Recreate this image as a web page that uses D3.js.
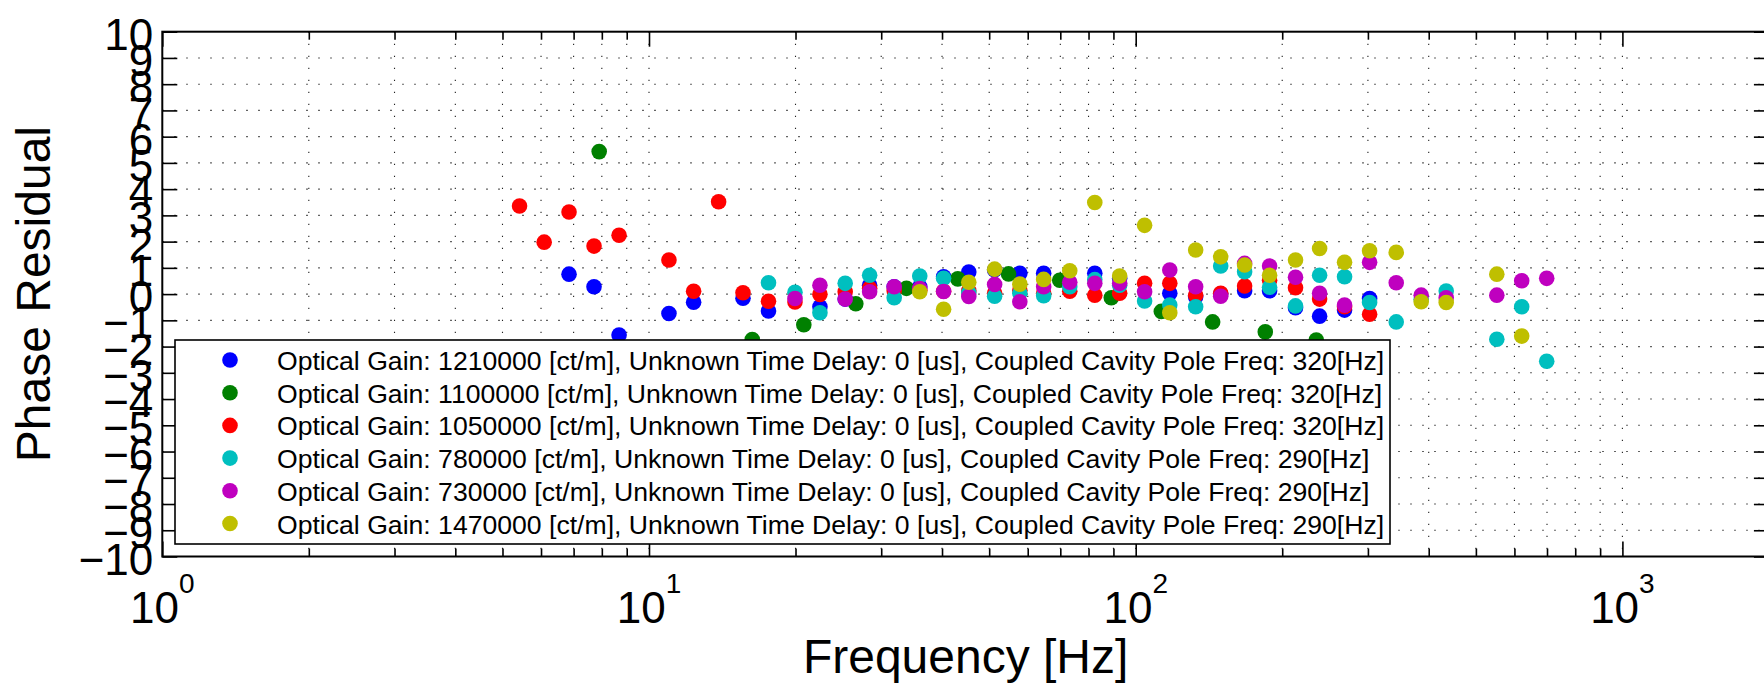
<!DOCTYPE html>
<html><head><meta charset="utf-8">
<script src="https://cdn.jsdelivr.net/npm/d3@7"></script>
<style>
body{margin:0;background:#fff}
svg{display:block}
text{font-family:"Liberation Sans", Arial, Helvetica, sans-serif; fill:#000}
</style>
</head><body>
<svg id="c" width="1764" height="687"></svg>
<script>
// ---------------- data ----------------
const freqBlue  = [6.85, 7.71, 8.68, 10.99, 12.35, 15.6, 17.6, 22.45, 25.3, 28.4, 31.9, 36.0, 40.3, 45.4, 51.3, 57.8, 64.7, 82.4, 92.7, 117.5, 132.8, 149.5, 167.4, 188.4, 213, 238.7, 268.6, 302.4];
const phaseBlue = [0.76, 0.28, -1.56, -0.74, -0.31, -0.16, -0.64, -0.48, -0.19, 0.34, 0.28, 0.28, 0.66, 0.84, 0.92, 0.79, 0.79, 0.79, 0.60, 0.03, -0.10, 0.00, 0.13, 0.13, -0.52, -0.84, -0.61, -0.17];

const freqGreen  = [7.9, 16.3, 20.8, 26.6, 33.8, 43.1, 54.8, 69.8, 89.1, 112.9, 143.9, 184.6, 235];
const phaseGreen = [5.43, -1.73, -1.17, -0.37, 0.22, 0.58, 0.77, 0.53, -0.14, -0.66, -1.06, -1.44, -1.75];

const freqRed  = [5.42, 6.09, 6.85, 7.71, 8.68, 10.99, 12.35, 13.9, 15.6, 17.6, 19.95, 22.45, 25.3, 28.4, 31.9, 36.0, 40.3, 45.4, 51.3, 57.8, 64.7, 73.2, 82.4, 92.7, 104.3, 117.5, 132.8, 149.5, 167.4, 188.4, 213, 238.7, 268.6, 302.4];
const phaseRed = [3.36, 1.98, 3.13, 1.83, 2.24, 1.30, 0.11, 3.52, 0.05, -0.27, -0.30, -0.01, 0.09, 0.22, 0.13, 0.15, 0.11, 0.13, 0.03, 0.15, 0.03, 0.11, -0.04, 0.03, 0.41, 0.41, -0.04, 0.03, 0.31, 0.53, 0.24, -0.19, -0.48, -0.77];

const freqCyan  = [17.6, 19.95, 22.45, 25.3, 28.4, 31.9, 36.0, 40.3, 45.4, 51.3, 57.8, 64.7, 73.2, 82.4, 92.7, 104.3, 117.5, 132.8, 149.5, 167.4, 188.4, 213, 238.7, 268.6, 302.4, 343, 386, 434.5, 552, 621, 699];
const phaseCyan = [0.43, 0.07, -0.71, 0.41, 0.72, -0.14, 0.69, 0.60, 0.05, -0.08, 0.03, -0.06, 0.28, 0.55, 0.34, -0.26, -0.42, -0.48, 1.07, 0.85, 0.26, -0.45, 0.72, 0.66, -0.32, -1.06, -0.20, 0.12, -1.72, -0.48, -2.56];

const freqMagenta  = [19.95, 22.45, 25.3, 28.4, 31.9, 36.0, 40.3, 45.4, 51.3, 57.8, 64.7, 73.2, 82.4, 92.7, 104.3, 117.5, 132.8, 149.5, 167.4, 188.4, 213, 238.7, 268.6, 302.4, 343, 386, 434.5, 552, 621, 699];
const phaseMagenta = [-0.17, 0.34, -0.19, 0.09, 0.28, 0.21, 0.10, -0.09, 0.37, -0.29, 0.28, 0.45, 0.41, 0.41, 0.09, 0.92, 0.28, -0.08, 1.17, 1.07, 0.64, 0.03, -0.42, 1.21, 0.43, -0.04, -0.14, -0.04, 0.51, 0.60];

const freqYellow  = [36.0, 40.3, 45.4, 51.3, 57.8, 64.7, 73.2, 82.4, 92.7, 104.3, 117.5, 132.8, 149.5, 167.4, 188.4, 213, 238.7, 268.6, 302.4, 343, 386, 434.5, 552, 621];
const phaseYellow = [0.09, -0.58, 0.45, 0.95, 0.38, 0.56, 0.89, 3.49, 0.69, 2.62, -0.71, 1.68, 1.42, 1.11, 0.72, 1.30, 1.74, 1.21, 1.65, 1.59, -0.29, -0.32, 0.76, -1.60];

const seriesLabels = [
  "Optical Gain: 1210000 [ct/m], Unknown Time Delay: 0 [us], Coupled Cavity Pole Freq: 320[Hz]",
  "Optical Gain: 1100000 [ct/m], Unknown Time Delay: 0 [us], Coupled Cavity Pole Freq: 320[Hz]",
  "Optical Gain: 1050000 [ct/m], Unknown Time Delay: 0 [us], Coupled Cavity Pole Freq: 320[Hz]",
  "Optical Gain: 780000 [ct/m], Unknown Time Delay: 0 [us], Coupled Cavity Pole Freq: 290[Hz]",
  "Optical Gain: 730000 [ct/m], Unknown Time Delay: 0 [us], Coupled Cavity Pole Freq: 290[Hz]",
  "Optical Gain: 1470000 [ct/m], Unknown Time Delay: 0 [us], Coupled Cavity Pole Freq: 290[Hz]"
];
const seriesColors = ["#0000ff", "#008000", "#ff0000", "#00bfbf", "#bf00bf", "#bfbf00"];

const yTickValues = [-10,-9,-8,-7,-6,-5,-4,-3,-2,-1,0,1,2,3,4,5,6,7,8,9,10];
const xDecadeExponents = [0, 1, 2, 3];
const xLabel = "Frequency [Hz]";
const yLabel = "Phase Residual";

// ---------------- layout ----------------
const svg = d3.select("#c");
const L = 162.3, T = 31.7, B = 556.5, decade = 486.7;
const xDomain = [1, 2000];
const x = d3.scaleLog().domain(xDomain).range([L, L + decade * Math.log10(xDomain[1])]);
const y = d3.scaleLinear().domain([-10, 10]).range([B, T]);
const R = x.range()[1];

const series = [
  [freqBlue, phaseBlue], [freqGreen, phaseGreen], [freqRed, phaseRed],
  [freqCyan, phaseCyan], [freqMagenta, phaseMagenta], [freqYellow, phaseYellow]
].map((p, i) => ({ color: seriesColors[i], label: seriesLabels[i],
  pts: p[0].map((f, j) => ({ f: f, v: p[1][j] })) }));

// grid
const xTicksAll = x.ticks();
const grid = svg.append("g").attr("stroke", "#222").attr("stroke-width", 1.1)
  .attr("stroke-dasharray", "1.4 10.6");
grid.selectAll("line.gx").data(xTicksAll.filter(t => t > xDomain[0] && t < xDomain[1]))
  .join("line").attr("x1", d => x(d)).attr("x2", d => x(d)).attr("y1", T).attr("y2", B);
grid.selectAll("line.gy").data(yTickValues.filter(t => t > -10 && t < 10))
  .join("line").attr("x1", L).attr("x2", R).attr("y1", d => y(d)).attr("y2", d => y(d));

// points
series.forEach(s => {
  svg.append("g").selectAll("circle").data(s.pts).join("circle")
    .attr("cx", d => x(d.f)).attr("cy", d => y(d.v)).attr("r", 7.8).attr("fill", s.color);
});

// axes: left (with labels) and right ticks
const fmt = d => (d < 0 ? "\u2212" + Math.abs(d) : String(d));
const gL = svg.append("g").attr("transform", `translate(${L},0)`)
  .call(d3.axisLeft(y).tickValues(yTickValues).tickSize(-15).tickPadding(9).tickFormat(fmt));
gL.select(".domain").remove();
gL.selectAll("line").attr("stroke", "#000").attr("stroke-width", 1.6);
gL.selectAll("text").attr("font-size", 44).attr("dy", "0.4em")
  .style("font-family", '"Liberation Sans", Arial, sans-serif');

const gR = svg.append("g").attr("transform", `translate(${R},0)`)
  .call(d3.axisRight(y).tickValues(yTickValues).tickSize(-15).tickFormat(""));
gR.select(".domain").remove();
gR.selectAll("line").attr("stroke", "#000").attr("stroke-width", 1.6);

// x ticks top & bottom (major longer)
const isMajor = t => Math.abs(Math.log10(t) - Math.round(Math.log10(t))) < 1e-9;
const gB = svg.append("g").attr("transform", `translate(0,${B})`)
  .call(d3.axisBottom(x).tickValues(xTicksAll).tickSize(-8).tickFormat(""));
gB.select(".domain").remove();
gB.selectAll(".tick line").attr("y2", d => isMajor(d) ? -15 : -8).attr("stroke", "#000").attr("stroke-width", 1.6);
const gT = svg.append("g").attr("transform", `translate(0,${T})`)
  .call(d3.axisTop(x).tickValues(xTicksAll).tickSize(-8).tickFormat(""));
gT.select(".domain").remove();
gT.selectAll(".tick line").attr("y2", d => isMajor(d) ? 15 : 8).attr("stroke", "#000").attr("stroke-width", 1.6);

// x decade labels 10^k
const xl = svg.append("g").selectAll("text").data(xDecadeExponents).join("text")
  .attr("x", d => x(Math.pow(10, d))).attr("y", 623).attr("text-anchor", "middle")
  .attr("font-size", 44);
xl.append("tspan").text("10");
xl.append("tspan").attr("dy", -30).attr("font-size", 28).text(d => d);

// frame
svg.append("rect").attr("x", L).attr("y", T).attr("width", R - L).attr("height", B - T)
  .attr("fill", "none").attr("stroke", "#000").attr("stroke-width", 2);

// axis labels
svg.append("text").attr("x", (L + R) / 2).attr("y", 673).attr("text-anchor", "middle")
  .attr("font-size", 48).text(xLabel);
svg.append("text").attr("transform", `translate(50,${(T + B) / 2}) rotate(-90)`)
  .attr("text-anchor", "middle").attr("font-size", 48).text(yLabel);

// legend
const lg = svg.append("g");
lg.append("rect").attr("x", 175).attr("y", 340).attr("width", 1215).attr("height", 204)
  .attr("fill", "#fff").attr("stroke", "#000").attr("stroke-width", 1.6);
const rows = lg.selectAll("g.row").data(series).join("g")
  .attr("transform", (d, i) => `translate(0,${360 + i * 32.7})`);
rows.append("circle").attr("cx", 230).attr("cy", 0).attr("r", 7.8).attr("fill", d => d.color);
rows.append("text").attr("x", 277).attr("y", 10).attr("font-size", 26.6).text(d => d.label);
</script>
</body></html>
